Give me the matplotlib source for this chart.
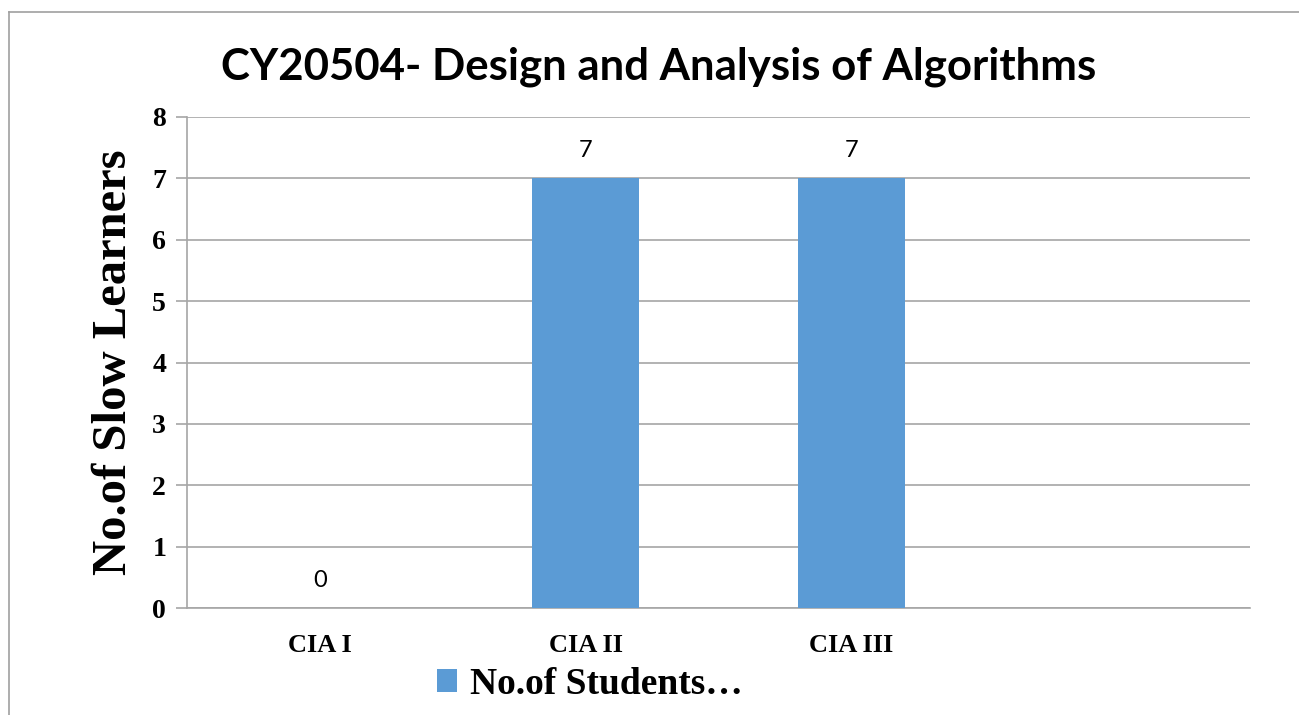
import matplotlib
matplotlib.use("Agg")
import matplotlib.pyplot as plt
from matplotlib.lines import Line2D
from matplotlib.patches import Patch

categories = ["CIA I", "CIA II", "CIA III", ""]
values = [0, 7, 7, None]
series_name = "No.of Students\u2026"
y_ticks = [0, 1, 2, 3, 4, 5, 6, 7, 8]

bar_color = "#5B9BD5"
grid_color = "#A6A6A6"

fig = plt.figure(figsize=(12.99, 7.15), dpi=100)
W, H = 1299, 715

# outer chart frame (left and top edges)
fig.add_artist(Line2D([9 / W, 9 / W], [0, 1 - 12 / H], transform=fig.transFigure,
                      color="#A0A0A0", lw=1.2))
fig.add_artist(Line2D([9 / W, 1], [1 - 12 / H, 1 - 12 / H], transform=fig.transFigure,
                      color="#A0A0A0", lw=1.2))

ax = fig.add_axes([187 / W, 1 - 608 / H, (1250 - 187) / W, (608 - 117) / H])

xs = list(range(len(categories)))
bx = [x for x, v in zip(xs, values) if v is not None]
bv = [v for v in values if v is not None]
ax.bar(bx, bv, width=0.4, color=bar_color, zorder=3)

for x, v in zip(bx, bv):
    ax.text(x, v + 0.45, str(v), ha="center", va="center",
            fontsize=17, family="Lato", color="#000000")

ax.set_xlim(-0.5, len(categories) - 0.5)
ax.set_ylim(0, 8)
ax.set_yticks(y_ticks)
ax.set_yticklabels([str(t) for t in y_ticks], family="Liberation Serif",
                   fontweight="bold", fontsize=20)
ax.set_xticks(xs)
ax.set_xticklabels(categories, family="Liberation Serif", fontweight="bold", fontsize=19)
ax.tick_params(axis="x", length=0, pad=19)
ax.tick_params(axis="y", length=8, width=1.2, color=grid_color, pad=7)

ax.yaxis.grid(True, color=grid_color, lw=1.2, zorder=0)
for s in ["top", "right"]:
    ax.spines[s].set_visible(False)
ax.spines["left"].set_color(grid_color)
ax.spines["left"].set_linewidth(1.2)
ax.spines["bottom"].set_color(grid_color)
ax.spines["bottom"].set_linewidth(1.2)

ax.set_ylabel("No.of Slow Learners", family="Liberation Serif", fontweight="bold",
              fontsize=35, labelpad=12)

fig.text(659 / W, 1 - 67 / H, "CY20504- Design and Analysis of Algorithms",
         ha="center", va="center", family="Lato", fontweight="bold", fontsize=31.5)

leg = fig.legend(handles=[Patch(facecolor=bar_color, label=series_name)],
                 loc="center", bbox_to_anchor=(590 / W, 1 - 684 / H),
                 frameon=False, prop={"family": "Liberation Serif", "weight": "bold", "size": 27},
                 handlelength=0.55, handleheight=0.55, handletextpad=0.35)

fig.savefig("out.png", dpi=100)
